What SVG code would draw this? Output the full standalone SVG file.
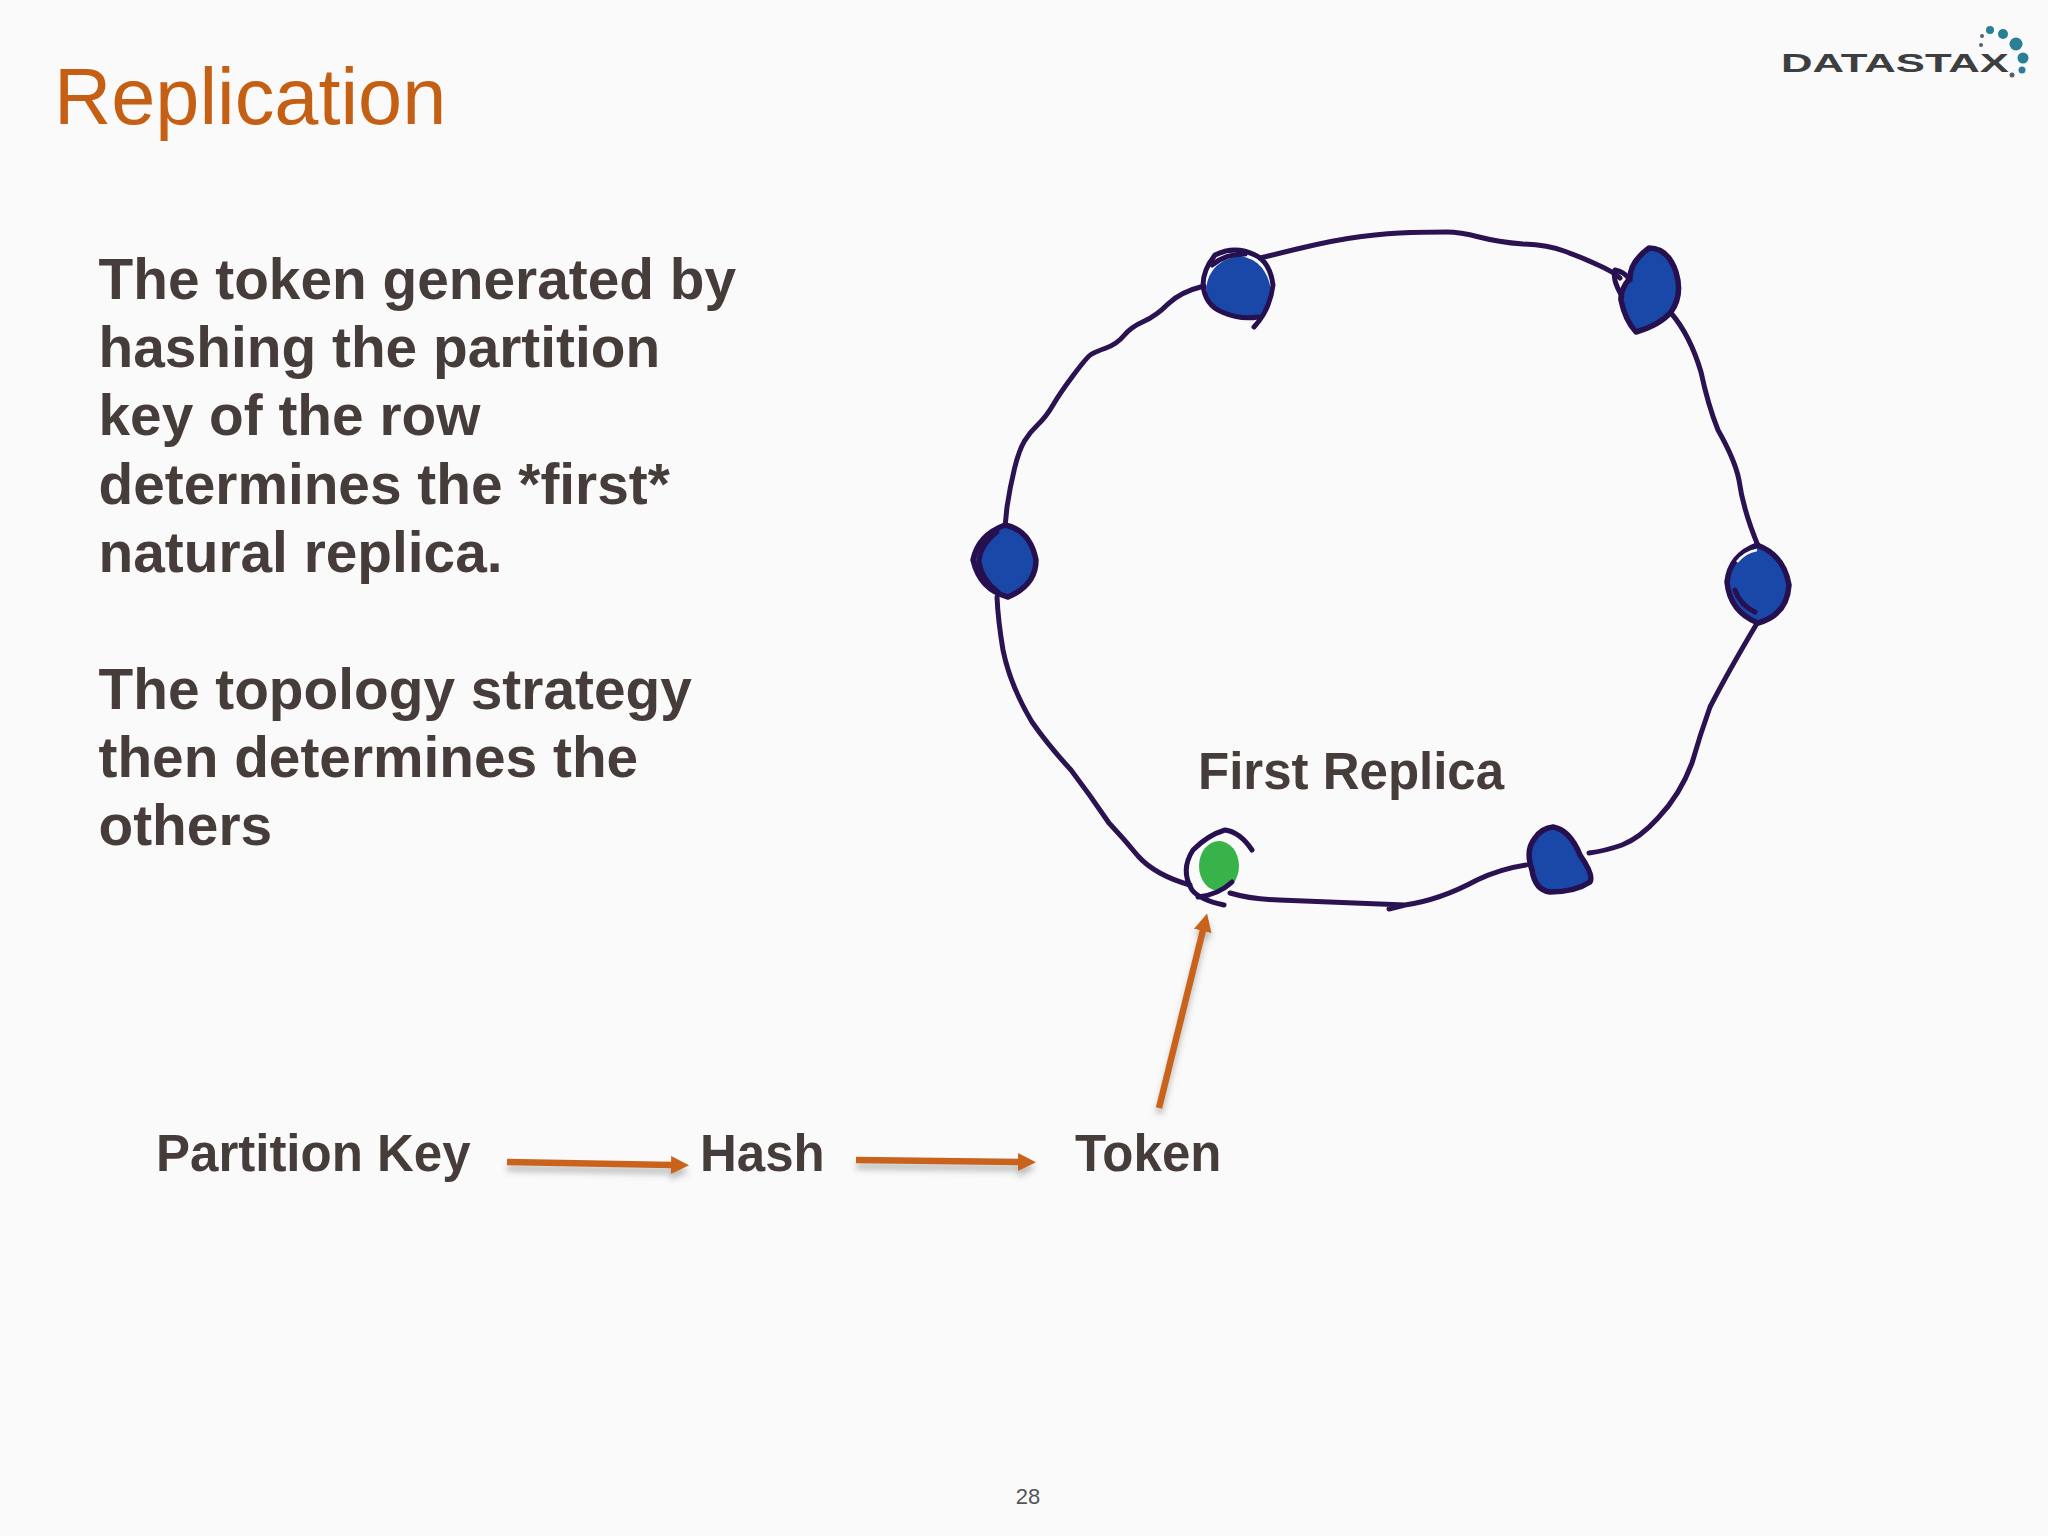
<svg xmlns="http://www.w3.org/2000/svg" width="2048" height="1536" viewBox="0 0 2048 1536">
<defs>
<style>
.t{font-family:"Liberation Sans",Arial,sans-serif}
.b{font-weight:700;fill:#463c3a}
.body{font-size:56.8px}
.lab{font-size:51px}
.ring{fill:none;stroke:#2a1350;stroke-width:5;stroke-linecap:round;stroke-linejoin:round}
.n{fill:#1a48a8;stroke:#26104f;stroke-width:5.5;stroke-linejoin:round}
.sk{fill:none;stroke:#26104f;stroke-width:5;stroke-linecap:round;stroke-linejoin:round}
.arr{fill:none;stroke:#c9641a;stroke-width:6.5}
.d{fill:#2a7f94}
.g{fill:#55606a}
</style>
<marker id="head" viewBox="0 0 18 18" refX="1" refY="9" markerWidth="18" markerHeight="18" markerUnits="userSpaceOnUse" orient="auto"><path d="M0 0L18 9L0 18Z" fill="#c9641a"/></marker>
<filter id="sh" x="-10%" y="-10%" width="120%" height="125%"><feDropShadow dx="0" dy="6" stdDeviation="3" flood-color="#5a5f5a" flood-opacity=".4"/></filter>
</defs>
<rect width="2048" height="1536" fill="#fafafa"/>
<text class="t" x="54" y="124" font-size="79.3" fill="#c55f13">Replication</text>
<g id="logo">
<text class="t" x="1781" y="72" font-size="26" font-weight="700" fill="#3c3e40" textLength="228" lengthAdjust="spacingAndGlyphs">DATASTAX</text>
<circle class="d" cx="1990" cy="30" r="4"/><circle class="d" cx="2003" cy="34" r="5"/><circle class="d" cx="2016" cy="44" r="6.5"/><circle class="d" cx="2023" cy="58" r="5.5"/><circle class="d" cx="2022" cy="70" r="3.5"/>
<circle class="g" cx="2012" cy="75" r="2.5"/><circle class="g" cx="1982" cy="36" r="2"/><circle class="g" cx="1981" cy="45" r="2"/>
</g>
<g id="body-text" class="t b body">
<text x="98.5" y="299">The token generated by</text>
<text x="98.5" y="367">hashing the partition</text>
<text x="98.5" y="435">key of the row</text>
<text x="98.5" y="504">determines the *first*</text>
<text x="98.5" y="572">natural replica.</text>
<text x="98.5" y="709">The topology strategy</text>
<text x="98.5" y="777">then determines the</text>
<text x="98.5" y="845">others</text>
</g>
<g id="connectors">
<g id="ring">
<path class="ring" d="M1005 527L1007 507Q1010 487 1014.5 468.5Q1019 450 1024.5 441Q1030 432 1038 424.5Q1046 417 1053 405Q1060 393 1073.5 375Q1087 357 1091 354.5Q1095 352 1106 348Q1117 344 1124 335.5Q1131 327 1143.5 321.5Q1156 316 1168 304Q1180 292 1204 286"/>
<path class="ring" d="M1260 258L1297 249Q1334 240 1361.5 236.5Q1389 233 1411 232.5Q1433 232 1446.5 232Q1460 232 1479 237Q1498 242 1523 244Q1548 245 1564 251Q1581 257 1597 264.5Q1614 272 1620 278"/>
<path class="ring" d="M1671 313Q1690 335 1701 372Q1708 405 1718 430Q1735 460 1739 480Q1743 510 1759 548"/>
<path class="ring" d="M1756 625Q1728 672 1710 707Q1700 735 1692 763Q1680 795 1658 818Q1640 838 1622 845Q1605 851 1589 853"/>
<path class="ring" d="M1526 865Q1500 869 1477 880Q1440 900 1405 905L1389 909L1405 905Q1350 903 1279 900Q1250 899 1230 893"/>
<path class="ring" d="M1190 885Q1155 875 1138 856Q1125 840 1109 823Q1090 795 1071 770Q1048 745 1032 722Q1010 685 1003 650Q998 620 997 597"/>
</g>
<g id="flow" filter="url(#sh)">
<path class="arr" d="M507 1162L672 1165" marker-end="url(#head)"/>
<path class="arr" d="M856 1160L1019 1162" marker-end="url(#head)"/>
<path class="arr" stroke-width="5.5" d="M1159 1108L1203 930" marker-end="url(#head)"/>
</g>
</g>
<g id="node-top-left">
<path d="M1206 288Q1210 260 1240 256Q1266 260 1271 290Q1274 312 1255 318Q1235 320 1220 310Q1206 300 1206 288Z" fill="#1a48a8"/>
<path class="sk" stroke-width="6" d="M1254 327Q1270 310 1273 285Q1270 262 1255 255Q1235 245 1215 255Q1203 270 1203 285Q1205 305 1222 312Q1240 320 1258 317"/>
<path class="sk" d="M1212 265Q1225 254 1245 254"/>
</g>
<g id="node-top-right">
<path class="n" d="M1630 278Q1630 262 1649 248Q1668 248 1676 272Q1683 295 1671 312Q1660 325 1636 332Q1625 320 1621 300Q1620 290 1630 278Z"/>
<path class="sk" stroke-width="4" d="M1622 296Q1612 280 1615 270Q1625 272 1630 280"/>
</g>
<g id="node-left">
<path class="n" d="M1005 525Q1030 530 1036 560Q1036 585 1008 597Q980 590 973 560Q978 535 1005 525Z"/>
<path class="sk" d="M997 532Q980 545 979 562Q982 580 998 592"/>
</g>
<g id="node-right">
<path class="n" d="M1757 545Q1784 555 1789 585Q1787 615 1758 623Q1730 612 1727 582Q1730 555 1757 545Z"/>
<path d="M1737 562Q1745 552 1757 550" fill="none" stroke="#fafafa" stroke-width="2.5"/>
<path class="sk" stroke-width="3.5" d="M1735 590Q1740 605 1755 612"/>
</g>
<g id="node-bottom-right">
<path class="n" d="M1553 827Q1570 830 1580 855Q1594 875 1590 882Q1575 892 1550 892Q1535 890 1532 870Q1525 850 1535 838Q1542 828 1553 827Z"/>
</g>
<g id="node-first-replica">
<ellipse cx="1219" cy="866" rx="20" ry="25" fill="#37b34a"/>
<path class="sk" d="M1252 850Q1240 832 1225 830Q1208 835 1193 850Q1180 870 1192 890Q1200 900 1224 905M1198 897Q1218 895 1232 882"/>
<text class="t b lab" x="1198" y="789">First Replica</text>
</g>
<g id="node-partition-key"><text class="t b lab" x="156" y="1171">Partition Key</text></g>
<g id="node-hash"><text class="t b lab" x="700" y="1171">Hash</text></g>
<g id="node-token"><text class="t b lab" x="1075" y="1171">Token</text></g>
<text class="t" x="1028" y="1504" font-size="22" text-anchor="middle" fill="#555">28</text>
</svg>
